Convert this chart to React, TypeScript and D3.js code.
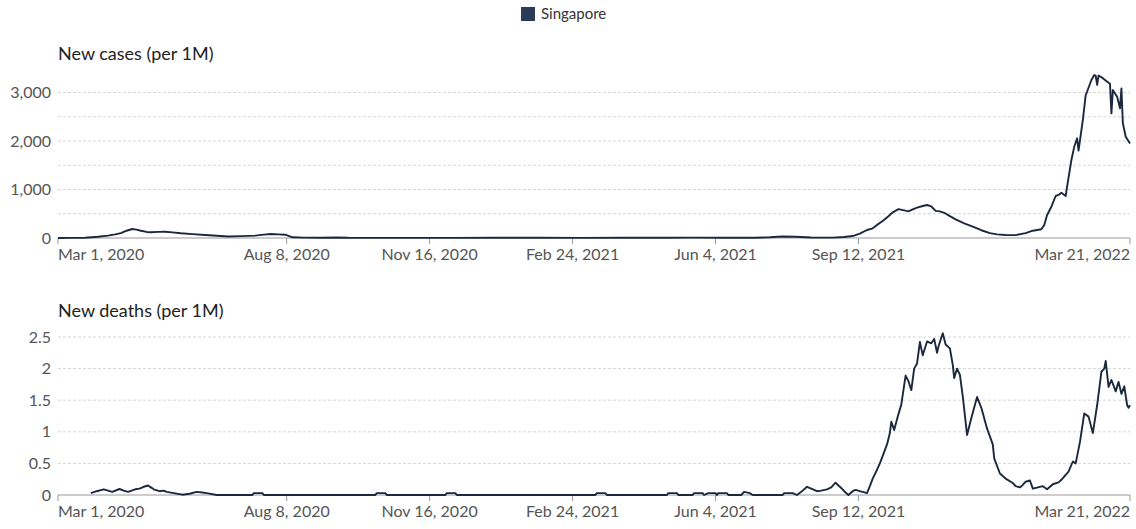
import React from "react";
import * as d3 from "d3";

const legendLabel = "Singapore";
const casesTitle = "New cases (per 1M)";
const deathsTitle = "New deaths (per 1M)";

const xTickDates = ["2020-03-01", "2020-08-08", "2020-11-16", "2021-02-24", "2021-06-04", "2021-09-12", "2022-03-21"];
const xDomainDates = ["2020-03-01", "2022-03-21"];

const casesGridValues = [0, 500, 1000, 1500, 2000, 2500, 3000];
const casesLabelValues = [0, 1000, 2000, 3000];
const deathsGridValues = [0, 0.5, 1, 1.5, 2, 2.5];
const deathsLabelValues = [0, 0.5, 1, 1.5, 2, 2.5];

const newCases: [string, number][] = [
  ["2020-03-01", 1], ["2020-03-10", 2], ["2020-03-20", 5], ["2020-03-29", 25], ["2020-04-05", 50],
  ["2020-04-10", 75], ["2020-04-14", 100], ["2020-04-18", 150], ["2020-04-22", 185], ["2020-04-25", 172],
  ["2020-04-28", 150], ["2020-05-02", 125], ["2020-05-05", 118], ["2020-05-10", 126], ["2020-05-15", 130],
  ["2020-05-20", 115], ["2020-05-26", 97], ["2020-06-03", 80], ["2020-06-12", 62], ["2020-06-20", 45],
  ["2020-06-28", 32], ["2020-07-08", 38], ["2020-07-17", 48], ["2020-07-23", 70], ["2020-07-28", 82],
  ["2020-08-02", 75], ["2020-08-07", 68], ["2020-08-12", 14], ["2020-08-20", 8], ["2020-09-01", 6],
  ["2020-09-12", 10], ["2020-09-20", 4], ["2020-10-01", 3], ["2020-11-01", 2], ["2020-12-01", 2],
  ["2021-01-01", 4], ["2021-02-01", 5], ["2021-03-01", 3], ["2021-04-01", 4], ["2021-05-01", 5],
  ["2021-05-20", 8], ["2021-06-10", 5], ["2021-07-01", 4], ["2021-07-12", 15], ["2021-07-21", 30],
  ["2021-07-30", 25], ["2021-08-10", 10], ["2021-08-25", 7], ["2021-09-02", 20], ["2021-09-08", 40],
  ["2021-09-13", 90], ["2021-09-18", 165], ["2021-09-22", 200], ["2021-09-25", 270], ["2021-09-29", 350],
  ["2021-10-03", 450], ["2021-10-06", 530], ["2021-10-10", 595], ["2021-10-14", 570], ["2021-10-17", 550],
  ["2021-10-20", 590], ["2021-10-23", 625], ["2021-10-27", 660], ["2021-10-30", 680], ["2021-11-02", 650],
  ["2021-11-05", 560], ["2021-11-08", 550], ["2021-11-11", 520], ["2021-11-15", 450], ["2021-11-19", 385],
  ["2021-11-25", 300], ["2021-12-01", 235], ["2021-12-07", 160], ["2021-12-13", 100], ["2021-12-18", 75],
  ["2021-12-24", 62], ["2021-12-31", 60], ["2022-01-07", 100], ["2022-01-12", 150], ["2022-01-18", 180],
  ["2022-01-20", 268], ["2022-01-22", 474], ["2022-01-25", 645], ["2022-01-28", 866], ["2022-01-30", 887],
  ["2022-02-01", 934], ["2022-02-04", 866], ["2022-02-05", 1058], ["2022-02-08", 1608], ["2022-02-10", 1882],
  ["2022-02-12", 2056], ["2022-02-13", 1802], ["2022-02-16", 2433], ["2022-02-18", 2948], ["2022-02-19", 3020],
  ["2022-02-22", 3258], ["2022-02-24", 3360], ["2022-02-25", 3350], ["2022-02-26", 3155], ["2022-02-27", 3350],
  ["2022-03-02", 3296], ["2022-03-06", 3200], ["2022-03-07", 3180], ["2022-03-08", 2570], ["2022-03-09", 3050],
  ["2022-03-12", 2914], ["2022-03-14", 2673], ["2022-03-15", 3085], ["2022-03-16", 2365], ["2022-03-18", 2088],
  ["2022-03-21", 1950],
];

const newDeaths: [string, number][] = [
  ["2020-03-24", 0.03], ["2020-03-28", 0.06], ["2020-04-02", 0.09], ["2020-04-05", 0.07], ["2020-04-08", 0.05],
  ["2020-04-13", 0.095], ["2020-04-16", 0.07], ["2020-04-19", 0.05], ["2020-04-24", 0.09], ["2020-04-27", 0.1],
  ["2020-04-30", 0.13], ["2020-05-03", 0.15], ["2020-05-05", 0.12], ["2020-05-07", 0.09], ["2020-05-11", 0.06],
  ["2020-05-14", 0.07], ["2020-05-16", 0.05], ["2020-05-21", 0.03], ["2020-05-27", 0.005], ["2020-06-01", 0.02],
  ["2020-06-06", 0.05], ["2020-06-10", 0.04], ["2020-06-13", 0.03], ["2020-06-20", 0],
  ["2020-07-15", 0], ["2020-07-16", 0.03], ["2020-07-22", 0.03], ["2020-07-23", 0],
  ["2020-10-09", 0], ["2020-10-10", 0.03], ["2020-10-16", 0.03], ["2020-10-17", 0],
  ["2020-11-27", 0], ["2020-11-28", 0.03], ["2020-12-04", 0.03], ["2020-12-05", 0],
  ["2021-03-12", 0], ["2021-03-13", 0.03], ["2021-03-19", 0.03], ["2021-03-20", 0],
  ["2021-05-01", 0], ["2021-05-02", 0.03], ["2021-05-08", 0.03], ["2021-05-09", 0],
  ["2021-05-19", 0], ["2021-05-20", 0.03], ["2021-05-26", 0.03], ["2021-05-27", 0],
  ["2021-05-30", 0.03], ["2021-06-04", 0.03], ["2021-06-05", 0], ["2021-06-06", 0.03],
  ["2021-06-12", 0.03], ["2021-06-13", 0], ["2021-06-22", 0], ["2021-06-24", 0.05],
  ["2021-06-28", 0.03], ["2021-06-30", 0], ["2021-07-21", 0], ["2021-07-22", 0.03],
  ["2021-07-28", 0.03], ["2021-07-31", 0], ["2021-08-03", 0.05], ["2021-08-07", 0.13],
  ["2021-08-10", 0.1], ["2021-08-14", 0.06], ["2021-08-17", 0.07], ["2021-08-21", 0.09],
  ["2021-08-24", 0.12], ["2021-08-27", 0.195], ["2021-08-29", 0.15], ["2021-08-31", 0.11],
  ["2021-09-03", 0.04], ["2021-09-05", 0], ["2021-09-08", 0.06], ["2021-09-10", 0.08],
  ["2021-09-13", 0.06], ["2021-09-15", 0.05], ["2021-09-18", 0.03], ["2021-09-20", 0.14],
  ["2021-09-22", 0.26], ["2021-09-25", 0.4], ["2021-09-27", 0.5], ["2021-09-29", 0.62],
  ["2021-10-02", 0.8], ["2021-10-04", 0.98], ["2021-10-05", 1.16], ["2021-10-07", 1.03],
  ["2021-10-10", 1.28], ["2021-10-12", 1.43], ["2021-10-15", 1.89], ["2021-10-17", 1.8],
  ["2021-10-19", 1.66], ["2021-10-21", 2.0], ["2021-10-23", 2.08], ["2021-10-25", 2.42],
  ["2021-10-27", 2.21], ["2021-10-30", 2.43], ["2021-11-02", 2.4], ["2021-11-04", 2.47],
  ["2021-11-06", 2.25], ["2021-11-07", 2.35], ["2021-11-10", 2.56], ["2021-11-12", 2.38],
  ["2021-11-15", 2.32], ["2021-11-17", 2.06], ["2021-11-18", 1.85], ["2021-11-20", 2.0],
  ["2021-11-22", 1.9], ["2021-11-24", 1.56], ["2021-11-27", 0.95], ["2021-11-30", 1.22],
  ["2021-12-04", 1.55], ["2021-12-07", 1.38], ["2021-12-11", 1.05], ["2021-12-15", 0.8],
  ["2021-12-16", 0.58], ["2021-12-20", 0.34], ["2021-12-24", 0.26], ["2021-12-29", 0.19],
  ["2021-12-31", 0.14], ["2022-01-03", 0.12], ["2022-01-05", 0.16], ["2022-01-07", 0.21],
  ["2022-01-10", 0.23], ["2022-01-12", 0.1], ["2022-01-19", 0.14], ["2022-01-22", 0.09],
  ["2022-01-26", 0.17], ["2022-01-30", 0.2], ["2022-02-01", 0.24], ["2022-02-04", 0.32],
  ["2022-02-06", 0.37], ["2022-02-09", 0.53], ["2022-02-11", 0.5], ["2022-02-14", 0.84],
  ["2022-02-17", 1.29], ["2022-02-20", 1.24], ["2022-02-23", 0.98], ["2022-02-26", 1.42],
  ["2022-03-01", 1.95], ["2022-03-03", 2.0], ["2022-03-04", 2.12], ["2022-03-06", 1.71],
  ["2022-03-08", 1.82], ["2022-03-11", 1.64], ["2022-03-13", 1.79], ["2022-03-15", 1.6],
  ["2022-03-17", 1.72], ["2022-03-19", 1.42], ["2022-03-20", 1.38], ["2022-03-21", 1.42],
];

const FONT = "Lato, 'Open Sans', sans-serif";
const LINE_COLOR = "#1c283d";
const LEGEND_COLOR = "#2c3b57";

const parse = d3.utcParse("%Y-%m-%d");
const fmt = d3.utcFormat("%b %-d, %Y");

const X0 = 58;
const X1 = 1130;

type Panel = {
  title: string;
  data: [string, number][];
  grid: number[];
  labels: number[];
  yScale: d3.ScaleLinear<number, number>;
  titleY: number;
};

export default function App() {
  const x = d3.scaleUtc().domain(xDomainDates.map((d) => parse(d) as Date)).range([X0, X1]);
  const yCases = d3.scaleLinear().domain([0, 3000]).range([238, 92.5]);
  const yDeaths = d3.scaleLinear().domain([0, 2.5]).range([495, 337]);

  const panels: Panel[] = [
    { title: casesTitle, data: newCases, grid: casesGridValues, labels: casesLabelValues, yScale: yCases, titleY: 60 },
    { title: deathsTitle, data: newDeaths, grid: deathsGridValues, labels: deathsLabelValues, yScale: yDeaths, titleY: 317 },
  ];

  const numFmt = (v: number) => (v >= 1000 ? d3.format(",")(v) : String(v));

  return (
    <svg width={1136} height={529} style={{ position: "absolute", left: 0, top: 0, background: "#fff" }} fontFamily={FONT}>
      <rect x={521} y={7} width={14} height={14} fill={LEGEND_COLOR} />
      <text x={541} y={19} fontSize={15} fill="#333">{legendLabel}</text>
      {panels.map((p, pi) => {
        const y = p.yScale;
        const y0 = y(0);
        const line = d3
          .line<[string, number]>()
          .x((d) => x(parse(d[0]) as Date))
          .y((d) => y(d[1]));
        return (
          <g key={pi}>
            <text x={X0} y={p.titleY} fontSize={18} fill="#222">{p.title}</text>
            {p.grid.filter((g) => g !== 0).map((g) => (
              <line key={g} x1={X0} x2={X1} y1={y(g)} y2={y(g)} stroke="#d6d6d6" strokeDasharray="3,2" />
            ))}
            {p.labels.map((l) => (
              <text key={l} x={51} y={y(l)} dy="0.35em" textAnchor="end" fontSize={16} fill="#555">{numFmt(l)}</text>
            ))}
            <line x1={X0} x2={X1} y1={y0} y2={y0} stroke="#999" />
            {xTickDates.map((t, i) => {
              const tx = x(parse(t) as Date);
              const anchor = i === 0 ? "start" : i === xTickDates.length - 1 ? "end" : "middle";
              return (
                <g key={t}>
                  <line x1={tx} x2={tx} y1={y0} y2={y0 + 6} stroke="#999" />
                  <text x={tx} y={y0 + 22} textAnchor={anchor} fontSize={16} fill="#555">{fmt(parse(t) as Date)}</text>
                </g>
              );
            })}
            <path d={line(p.data) || ""} fill="none" stroke={LINE_COLOR} strokeWidth={1.9} strokeLinejoin="round" />
          </g>
        );
      })}
    </svg>
  );
}
